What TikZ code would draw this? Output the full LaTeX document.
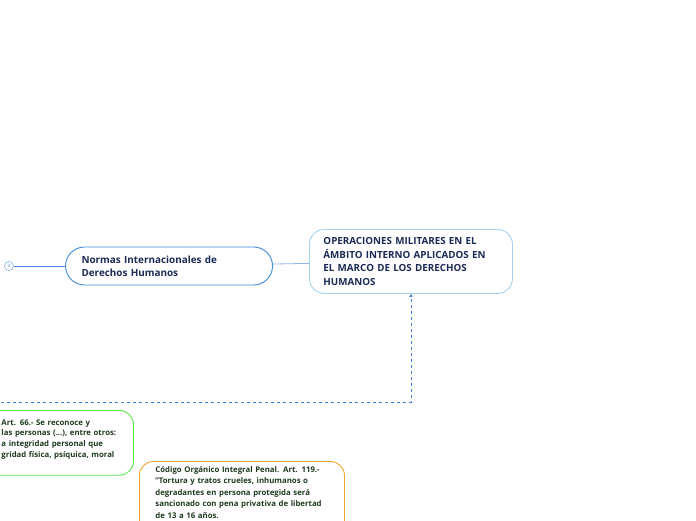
\documentclass[tikz,border=0pt]{standalone}
\usepackage{fontspec}
\setmainfont{Open Sans}
\usepackage{xcolor}
\usepackage{tikz}
\usetikzlibrary{arrows.meta, positioning, calc}

\definecolor{navytext}{HTML}{1B2A55}
\definecolor{greentext}{HTML}{1E3A1E}
\definecolor{mainedge}{HTML}{A6D2F0}
\definecolor{topicedge}{HTML}{3F8BD8}
\definecolor{linkblue}{HTML}{3A7FD8}
\definecolor{softlink}{HTML}{8FB8F2}
\definecolor{foldlink}{HTML}{4A7FE8}
\definecolor{greenedge}{HTML}{5CEB4E}
\definecolor{orangeedge}{HTML}{F2A42A}

\newcommand{\boxfoot}[1]{\rule[-#1]{0pt}{#1}}

\begin{document}
\begin{tikzpicture}[
    x=1pt, y=-1pt,
    central/.style={rectangle, draw=mainedge, line width=0.9pt, rounded corners=15pt, minimum width=203pt, minimum height=64pt, inner xsep=14pt, text width=175pt, align=left, font=\fontsize{9.8}{13.4}\selectfont\bfseries, text=navytext},
    topic/.style={rectangle, draw=topicedge, line width=0.9pt, rounded corners=19pt, minimum width=207pt, minimum height=38pt, inner xsep=16pt, text width=175pt, align=left, font=\fontsize{9.9}{13.3}\selectfont\bfseries, text=navytext},
    lawbox/.style={rectangle, line width=0.9pt, rounded corners=14pt, align=left, text=greentext},
    fold/.style={circle, draw=foldlink!60, line width=0.6pt, minimum size=9pt, inner sep=0pt, font=\fontsize{4.5}{4.5}\selectfont, text=foldlink},
    link/.style={line width=0.8pt},
    dlink/.style={dashed, line width=0.8pt, draw=linkblue, -{Triangle[length=3pt, width=3pt]}}
]
\useasboundingbox (0,0) rectangle (696,520);
\clip (0,0) rectangle (696,520);

% main topic and its branch
\node[central, anchor=north west] (ops) at (309,229) {OPERACIONES MILITARES EN EL\\ÁMBITO INTERNO APLICADOS EN\\EL MARCO DE LOS DERECHOS\\HUMANOS};
\node[topic, anchor=east] (normas) at (273,266) {Normas Internacionales de\\Derechos Humanos};
\node[fold] (more) at (9,266) {3};

% law text boxes
\node[lawbox, draw=greenedge, anchor=north west, minimum width=153pt, inner xsep=8pt, inner ysep=9pt, text width=137pt, font=\fontsize{7.8}{10.7}\selectfont\bfseries] (const) at (-20,410) {\hspace*{13pt}Art. 66.- Se reconoce y\\\hspace*{13pt}las personas (...), entre otros:\\\hspace*{13pt}a integridad personal que\\\hspace*{13pt}gridad física, psíquica, moral\boxfoot{9pt}};
\node[lawbox, draw=orangeedge, anchor=north west, minimum width=205pt, inner xsep=16pt, inner ysep=5pt, text width=173pt, font=\fontsize{7.8}{11.4}\selectfont\bfseries] (coip) at (139,461) {Código Orgánico Integral Penal. Art. 119.-\\"Tortura y tratos crueles, inhumanos o\\degradantes en persona protegida será\\sancionado con pena privativa de libertad\\de 13 a 16 años.\boxfoot{20pt}};

% connectors
\coordinate (offleft) at (-5,402);
\draw[link, draw=softlink] (normas) -- (ops);
\draw[link, draw=foldlink] (more) -- (normas);
\draw[dlink] (offleft) -| (ops.south);
\end{tikzpicture}
\end{document}
